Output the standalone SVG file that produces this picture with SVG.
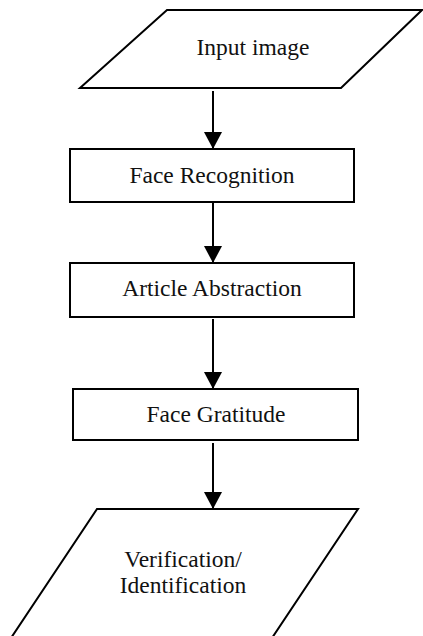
<svg xmlns="http://www.w3.org/2000/svg" width="423" height="636" viewBox="0 0 423 636">
<style>
.shape{fill:#fff;stroke:#000;stroke-width:2}
.lbl{font-family:"Liberation Serif","Times New Roman",serif;font-size:23.5px;fill:#111;text-anchor:middle}
.conn{stroke:#000;stroke-width:2;fill:none}
</style>
<defs>
<marker id="ah" markerUnits="userSpaceOnUse" markerWidth="18" markerHeight="18" refX="17" refY="9" orient="auto" viewBox="0 0 18 18">
<path d="M0,0 L17,9 L0,18 Z" fill="#000"/>
</marker>
</defs>
<rect width="423" height="636" fill="#fff"/>
<g id="input">
<polygon class="shape" points="167,10 422,10 341,88 80,88"/>
<text class="lbl" x="253" y="55">Input image</text>
</g>
<g id="face-recognition">
<rect class="shape" x="70" y="149" width="284" height="53"/>
<text class="lbl" x="212" y="183">Face Recognition</text>
</g>
<g id="article-abstraction">
<rect class="shape" x="70" y="263" width="284" height="54"/>
<text class="lbl" x="212" y="296">Article Abstraction</text>
</g>
<g id="face-gratitude">
<rect class="shape" x="73" y="389" width="285" height="51"/>
<text class="lbl" x="216" y="422">Face Gratitude</text>
</g>
<g id="verification">
<polygon class="shape" points="97,509 358,509 264,650 3,650"/>
<text class="lbl" x="183" y="567">Verification/</text>
<text class="lbl" x="183" y="593">Identification</text>
</g>
<g id="connectors">
<line class="conn" x1="213" y1="91" x2="213" y2="149" marker-end="url(#ah)"/>
<line class="conn" x1="213" y1="203" x2="213" y2="263" marker-end="url(#ah)"/>
<line class="conn" x1="213" y1="319" x2="213" y2="389" marker-end="url(#ah)"/>
<line class="conn" x1="213" y1="443" x2="213" y2="509" marker-end="url(#ah)"/>
</g>
</svg>
